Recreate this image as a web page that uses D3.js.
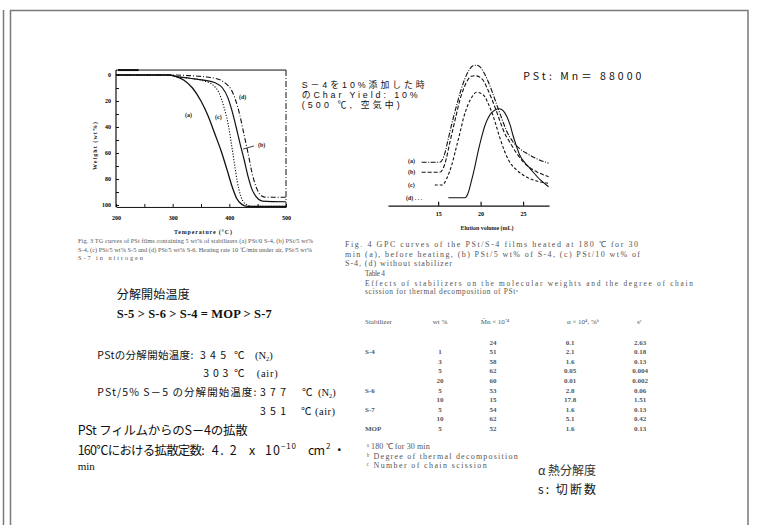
<!DOCTYPE html>
<html lang="ja">
<head>
<meta charset="UTF-8">
<title>PSt の熱分解と安定剤</title>
<script src="https://d3js.org/d3.v7.min.js"></script>
<style>
  body { margin: 0; background: #fff; }
  svg { display: block; }
  .jp { font-family: "Noto Sans CJK JP", sans-serif; fill: #111; }
  .jpl { font-family: "Liberation Sans", "Noto Sans CJK JP", sans-serif; fill: #111; }
  .serif { font-family: "Liberation Serif", serif; fill: #111; }
  .cap { font-family: "Liberation Serif", serif; fill: #555; }
  .tiny { font-family: "Liberation Serif", serif; font-weight: bold; fill: #222; }
</style>
</head>
<body>
<svg id="slide" width="757" height="525"></svg>
<script>
// ---- TGA curves: [temperature ℃, weight loss %]
const tgaTicksX = [200, 300, 400, 500];
const tgaTicksY = [0, 20, 40, 60, 80, 100];
const tgaA = [[200,0],[290,0],[305,1],[320,4],[335,10],[350,20],[362,31],[375,46],[386,59],[396,73],[405,86],[413,95],[422,99.5],[432,101],[500,101]];
const tgaB = [[200,0],[295,0],[305,1],[330,2.5],[355,4],[375,6],[388,10],[397,17],[405,28],[412,40],[419,53],[426,65],[433,78],[440,88],[448,94],[458,97],[500,97.5]];
const tgaC = [[200,0],[295,0],[305,1],[330,2.5],[355,4.5],[372,8],[382,14],[390,24],[398,38],[404,54],[409,68],[414,82],[420,93],[428,99],[440,101],[500,101]];
const tgaD = [[200,0],[300,0],[330,0.5],[360,1.5],[375,2.5],[385,4],[395,7],[403,11],[410,18],[418,30],[425,44],[433,60],[441,77],[449,88],[457,93],[465,94],[500,94]];

// ---- GPC curves: [elution volume mL, detector response]
const gpcTicks = [15, 20, 25];
const gpcA = [[13.06,43.4],[15.2,43.4],[15.7,50],[16.2,67],[16.7,85],[17.2,101],[17.7,116],[18.15,127],[18.6,135],[19.1,140],[19.5,140.5],[19.9,139],[20.4,133],[20.9,124],[21.4,113],[21.9,101],[22.5,87],[23.1,74],[23.8,64],[24.6,57],[25.5,52],[26.6,47],[28.0,42.5]];
const gpcB = [[13.06,33.4],[15.2,33.4],[15.8,42],[16.4,64],[17.0,86],[17.6,107],[18.1,119],[18.5,126],[18.9,129.5],[19.3,130],[19.8,129],[20.3,125.5],[20.8,117],[21.3,107],[21.8,96],[22.3,84],[22.8,73],[23.4,64],[24.2,53],[25.0,44],[25.8,38],[26.6,34],[28.0,29]];
const gpcC = [[14.6,20.7],[15.5,20.7],[16.0,27],[16.6,40.7],[17.1,57],[17.6,74],[18.0,88],[18.5,100.7],[19.0,109],[19.5,113.4],[20.0,112.5],[20.5,109],[20.9,102],[21.3,94],[21.8,81],[22.3,67],[22.8,55],[23.4,44],[24.2,36],[25.0,30.7],[26.6,24.7],[28.0,22.4]];
const gpcD = [[16.2,8],[18.15,8],[18.5,12],[18.9,24],[19.3,38],[19.7,54],[20.1,68],[20.5,80],[20.9,88],[21.3,93],[21.75,96],[22.2,97],[22.65,95],[23.1,89],[23.5,80],[23.8,70.7],[24.2,60],[24.6,50.7],[25.2,43],[25.8,37.4],[27.0,26],[28.0,19]];

// ---- Table 4
const tableHead = ["Stabilizer", "wt %", "M\u0304n × 10\u207B\u2074", "α × 10\u2074, %\u1D47", "s\u1D9C"];
const tableStab = ["", "S-4", "", "", "", "S-6", "", "S-7", "", "MOP"];
const tableWt   = ["", "1", "3", "5", "20", "5", "10", "5", "10", "5"];
const tableMn   = ["24", "51", "58", "62", "60", "53", "15", "54", "62", "52"];
const tableAlpha = ["0.1", "2.1", "1.6", "0.05", "0.01", "2.8", "17.8", "1.6", "5.1", "1.6"];
const tableS    = ["2.63", "0.18", "0.13", "0.004", "0.002", "0.06", "1.51", "0.13", "0.42", "0.13"];

const svg = d3.select("#slide");

function label(x, c, str, opts = {}) {
  const size = opts.size || 10;
  const t = svg.append("text")
    .attr("class", opts.cls || "jp")
    .attr("x", x).attr("y", c + size * 0.36)
    .attr("font-size", size)
    .text(str);
  if (opts.len) t.attr("textLength", opts.len).attr("lengthAdjust", "spacing");
  if (opts.anchor) t.attr("text-anchor", opts.anchor);
  if (opts.weight) t.attr("font-weight", opts.weight);
  return t;
}

// several lines as one text block: lines = [[centreY, string, length, size?], ...]
function block(x, lines, opts = {}) {
  const size = opts.size || 10;
  const t = svg.append("text").attr("class", opts.cls || "jp").attr("font-size", size);
  lines.forEach(([c, str, len, s]) => {
    const sp = t.append("tspan").attr("x", x).attr("y", c + (s || size) * 0.36).text(str);
    if (s) sp.attr("font-size", s);
    if (len) sp.attr("textLength", len).attr("lengthAdjust", "spacing");
  });
  return t;
}

// slide frame
svg.append("path").attr("d", "M3.5,10 V525").attr("stroke", "#7a7a7a").attr("stroke-width", 1.5).attr("fill", "none");
svg.append("path").attr("d", "M10.5,525 V10.5 H748 V525").attr("stroke", "#7a7a7a").attr("stroke-width", 1.5).attr("fill", "none");

// ================= TGA chart =================
const tx = d3.scaleLinear().domain([200, 500]).range([116, 286]);
const ty = d3.scaleLinear().domain([0, 100]).range([75, 205]);
const tTop = ty(-3.8), tBot = ty(101.5);

const tga = svg.append("g");
tga.append("line").attr("x1", tx(200)).attr("x2", tx(500)).attr("y1", tTop).attr("y2", tTop).attr("stroke", "#111").attr("stroke-width", 1);
tga.append("line").attr("x1", tx(200) + 2).attr("x2", tx(240)).attr("y1", tTop).attr("y2", tTop).attr("stroke", "#111").attr("stroke-width", 2);
tga.append("line").attr("x1", tx(500)).attr("x2", tx(500)).attr("y1", tTop).attr("y2", tBot).attr("stroke", "#111").attr("stroke-dasharray", "6,2,1,2");

const axX = tga.append("g").attr("transform", `translate(0,${tBot})`)
  .call(d3.axisBottom(tx).tickValues(d3.range(200, 501, 50)).tickSize(-3).tickSizeOuter(0).tickPadding(9)
    .tickFormat(d => tgaTicksX.includes(d) ? d : ""));
const axY = tga.append("g").attr("transform", `translate(${tx(200)},0)`)
  .call(d3.axisLeft(ty).tickValues(d3.range(0, 101, 10)).tickSize(-3).tickSizeOuter(0).tickPadding(5)
    .tickFormat(d => tgaTicksY.includes(d) ? d : ""));
axY.select(".domain").remove();
tga.append("line").attr("x1", tx(200)).attr("x2", tx(200)).attr("y1", tTop).attr("y2", tBot).attr("stroke", "#111").attr("stroke-width", 1.2);
[axX, axY].forEach(a => {
  a.attr("font-family", "Liberation Serif").attr("font-size", 6).attr("font-weight", "bold");
  a.selectAll("line, path").attr("stroke", "#111");
});

const tLine = d3.line().x(d => tx(d[0])).y(d => ty(d[1])).curve(d3.curveMonotoneX);
[[tgaA, null, 1.3], [tgaC, "1.2,1.6", 1.1], [tgaB, null, 1.2], [tgaD, "5,2,1,2", 1.1]].forEach(([data, dash, w]) => {
  tga.append("path").datum(data).attr("d", tLine)
    .attr("fill", "none").attr("stroke", "#111").attr("stroke-width", w)
    .attr("stroke-dasharray", dash);
});
label(185, 115, "(a)", { cls: "tiny", size: 6 });
label(215, 117, "(c)", { cls: "tiny", size: 6 });
label(239, 97, "(d)", { cls: "tiny", size: 6 });
label(258, 145, "(b)", { cls: "tiny", size: 6 });
tga.append("line").attr("x1", 243).attr("x2", 254).attr("y1", 149).attr("y2", 146).attr("stroke", "#111").attr("stroke-width", 0.8);
label(203, 231.5, "Temperature  (°C)", { cls: "tiny", size: 6, anchor: "middle", len: 58 });
label(0, 0, "Weight   (wt%)", { cls: "tiny", size: 6, anchor: "middle", len: 48 })
  .attr("transform", "translate(95,146) rotate(-90)");

// ================= GPC chart =================
const gx = d3.scaleLinear().domain([9.1, 28.05]).range([388, 549]);
const gy = d3.scaleLinear().domain([0, 140]).range([205.7, 65.7]);
const gpc = svg.append("g");
const axG = gpc.append("g").attr("transform", `translate(0,${gy(0)})`)
  .call(d3.axisBottom(gx).tickValues(gpcTicks).tickSize(-4).tickSizeOuter(0).tickPadding(6));
axG.attr("font-family", "Liberation Serif").attr("font-size", 6).attr("font-weight", "bold");
axG.selectAll("line, path").attr("stroke", "#111").attr("stroke-width", 1.2);

const gLine = d3.line().x(d => gx(d[0])).y(d => gy(d[1])).curve(d3.curveMonotoneX);
[[gpcA, "5,1.5,1,1.5"], [gpcB, "4,2"], [gpcC, "3,2"], [gpcD, null]].forEach(([data, dash]) => {
  gpc.append("path").datum(data).attr("d", gLine)
    .attr("fill", "none").attr("stroke", "#111").attr("stroke-width", 1.1)
    .attr("stroke-dasharray", dash);
});
label(408, 161, "(a)", { cls: "tiny", size: 6 });
label(408, 172, "(b)", { cls: "tiny", size: 6 });
label(408, 185, "(c)", { cls: "tiny", size: 6 });
label(406, 198.3, "(d) .   .   .", { cls: "tiny", size: 6 });
label(487, 227.5, "Elution volume   (mL)", { cls: "tiny", size: 6, anchor: "middle", len: 53 });

// ================= annotations =================
label(301.7, 84.7, "S－4を10%添加した時", { cls: "jpl", size: 8.9, len: 123 });
label(301.7, 94.9, "のChar  Yield:  10%", { cls: "jpl", size: 8.9, len: 116 });
label(301.7, 105, "(500 ℃, 空気中)", { cls: "jpl", size: 8.9, len: 98 });
label(523.3, 76.7, "PSt:  Mn＝  88000", { size: 10.5, len: 118 });

// figure captions (scanned, small)
block(78, [
  [241, "Fig. 3    TG curves of PSt films containing 5 wt% of stabilizers (a) PSt/0 S-4, (b) PSt/5 wt%", 235],
  [249.5, "S-4, (c) PSt/5 wt% S-5 and (d) PSt/5 wt% S-6. Heating rate 10 ℃/min under air, PSt/5 wt%", 234],
  [258, "S-7 in nitrogen", 65]
], { cls: "cap", size: 6.3 });

block(345, [
  [244.5, "Fig. 4   GPC curves of the PSt/S-4 films heated at 180 ℃ for 30", 293],
  [254, "min (a), before heating, (b) PSt/5 wt% of S-4, (c) PSt/10 wt% of", 295],
  [263, "S-4, (d) without stabilizer", 107]
], { cls: "cap", size: 8 });
block(365, [
  [273.3, "Table 4", 20],
  [283.3, "Effects of stabilizers on the molecular weights and the degree of chain", 328],
  [291.8, "scission for thermal decomposition of PSt\u1D43", 153]
], { cls: "cap", size: 7.4 });

// table
const colX = [365, 440, 495, 583, 637];
tableHead.forEach((h, i) => label(colX[i], 321, h, { cls: "cap", size: 7, anchor: (i === 0 || i === 4) ? null : "middle" }));
const rowC = i => 342 + i * 9.6;
tableMn.forEach((_, i) => {
  label(365, rowC(i), tableStab[i], { cls: "cap", size: 7, weight: "bold" });
  label(440, rowC(i), tableWt[i], { cls: "cap", size: 7, anchor: "middle", weight: "bold" });
  label(493, rowC(i), tableMn[i], { cls: "cap", size: 7, anchor: "middle", weight: "bold" });
  label(570, rowC(i), tableAlpha[i], { cls: "cap", size: 7, anchor: "middle", weight: "bold" });
  label(640, rowC(i), tableS[i], { cls: "cap", size: 7, anchor: "middle", weight: "bold" });
});
block(366.7, [
  [445.7, "\u1D43 180 ℃ for 30 min", 63],
  [455.7, "\u1D47 Degree of thermal decomposition", 151],
  [465, "\u1D9C Number of chain scission", 120]
], { cls: "cap", size: 8 });

label(538, 471, "α 熱分解度", { size: 12, len: 58 }).style("fill", "#333");
label(538, 490, "s:  切断数", { size: 12, len: 58 });

// left column texts
label(116.7, 295, "分解開始温度", { size: 12, len: 73 });
label(116.7, 313, "S-5 > S-6 > S-4 = MOP  > S-7", { cls: "serif", size: 12.5, len: 155, weight: "bold" });

function n2(x, c, size) {
  const t = svg.append("text").attr("class", "serif").attr("x", x).attr("y", c + size * 0.36).attr("font-size", size);
  t.append("tspan").text("(N");
  t.append("tspan").attr("dy", 2).attr("font-size", size * 0.6).text("2");
  t.append("tspan").attr("dy", -2).text(")");
  return t;
}
label(97.3, 355, "PStの分解開始温度:", { size: 10.5, len: 96 });
label(200, 355, "345", { size: 10.5, len: 26 });
label(234, 355, "℃", { size: 10.5 });
n2(255, 355, 10.5);
label(203.3, 373.3, "303", { size: 10.5, len: 25 });
label(234, 373.3, "℃", { size: 10.5 });
label(256.7, 373.3, "(air)", { cls: "serif", size: 10.5, len: 21 });
label(97.3, 392.3, "PSt/5%  S－5  の分解開始温度:", { size: 10.5, len: 159 });
label(260, 392.3, "377", { size: 10.5, len: 26 });
label(302, 392.3, "℃", { size: 10.5 });
n2(318, 392.3, 10.5);
label(260, 411, "351", { size: 10.5, len: 26 });
label(301, 411, "℃", { size: 10.5 });
label(315, 411, "(air)", { cls: "serif", size: 10.5, len: 20 });

label(77.7, 430.7, "PSt フィルムからのS－4の拡散", { size: 12.5, len: 170 });
label(77.7, 450.7, "160℃における拡散定数:", { size: 12.5, len: 127 });
label(211.7, 450.7, "4. 2", { size: 12.5, len: 25 });
label(249, 450.7, "x", { size: 12.5 });
label(265, 450.7, "10", { size: 12.5, len: 15 });
label(281, 446, "−10", { size: 8, len: 15 });
label(308, 450.7, "cm", { size: 12.5, len: 17 });
label(326, 446, "2", { size: 8 });
label(333, 450.7, "・", { size: 12.5 });
label(77.7, 466, "min", { cls: "serif", size: 11 });
</script>
</body>
</html>
